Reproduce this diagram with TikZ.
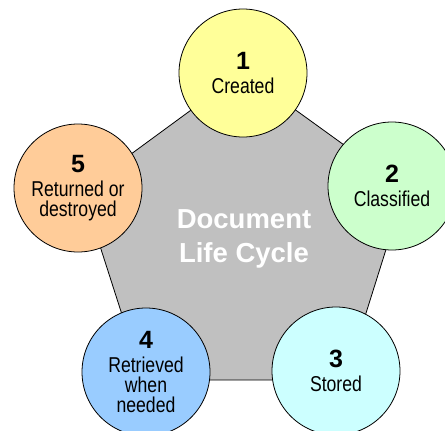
\documentclass[tikz,border=0pt]{standalone}
\usepackage{fontspec}
\setmainfont{Liberation Sans}
\newfontfamily\narrowfont{Liberation Sans}[FakeStretch=0.82]
\definecolor{pentgray}{HTML}{C0C0C0}
\definecolor{created}{HTML}{FFFF99}
\definecolor{classified}{HTML}{CCFFCC}
\definecolor{stored}{HTML}{CCFFFF}
\definecolor{retrieved}{HTML}{99CCFF}
\definecolor{returned}{HTML}{FFCC99}
\newcommand{\stagenum}[1]{{\normalfont\bfseries\fontsize{25}{25}\selectfont #1}\\[4pt]}
\begin{document}
\begin{tikzpicture}[x=1pt,y=-1pt,
  stage/.style={circle,draw,line width=0.8pt,minimum size=128pt,inner sep=0pt,
    align=center,font=\narrowfont\fontsize{21.5}{20}\selectfont}]
\useasboundingbox (0,0) rectangle (445,431);
\clip (0,0) rectangle (445,431);
% grey pentagon behind the five stages
\filldraw[fill=pentgray,line width=0.8pt] (243,72) -- (405,189) -- (345,380) -- (143,380) -- (82,190) -- cycle;
\node[white,align=center,font=\bfseries\fontsize{27.5}{34}\selectfont] (title) at (244,239) {Document\\Life Cycle};
% the stages, clockwise from the top
\node[stage,fill=created] (created) at (243,73) {\stagenum{1}Created};
\node[stage,fill=classified] (classified) at (392,186) {\stagenum{2}Classified};
\node[stage,fill=stored] (stored) at (336,371) {\stagenum{3}Stored};
\node[stage,fill=retrieved] (retrieved) at (146,372) {\stagenum{4}Retrieved\\when\\needed};
\node[stage,fill=returned] (returned) at (78,188) {\stagenum{5}Returned or\\destroyed};
\end{tikzpicture}
\end{document}
